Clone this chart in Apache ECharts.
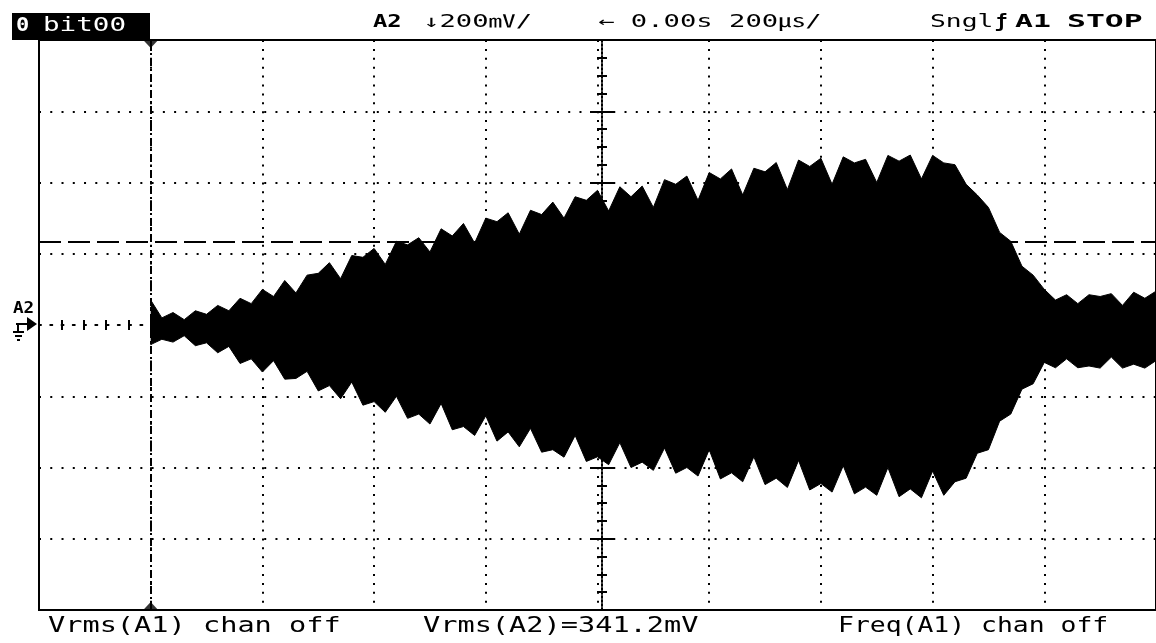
<!DOCTYPE html>
<html>
<head>
<meta charset="utf-8">
<script src="https://cdn.jsdelivr.net/npm/echarts@6/dist/echarts.min.js"></script>
<style>
html, body { margin: 0; padding: 0; background: #fff; }
#main { width: 1156px; height: 643px; }
</style>
</head>
<body>
<div id="main"></div>
<script>
// sample times in us (trigger marker at 0), 200us/div
var times = [0,20,40,60,80,100,120,140,160,180,200,220,240,260,280,300,320,340,360,380,
  400,420,440,460,480,500,520,540,560,580,600,620,640,660,680,700,720,740,760,780,
  800,820,840,860,880,900,920,940,960,980,1000,1020,1040,1060,1080,1100,1120,1140,1160,1180,
  1200,1220,1240,1260,1280,1300,1320,1340,1360,1380,1400,1420,1440,1460,1480,1500,1520,1540,1560,1580,
  1600,1620,1640,1660,1680,1700,1720,1740,1760,1780,1800];
// envelope of channel A2 in mV (needle tips and gaps), 200mV/div
var upper = [70,20,35,15,40,30,55,40,75,60,
  100,80,125,90,140,145,175,130,195,190,
  215,170,235,225,245,205,270,250,285,230,
  300,290,315,255,322,310,345,300,360,350,
  378,320,388,360,390,330,408,395,418,350,
  428,410,438,365,440,430,456,380,463,445,
  468,395,472,455,465,400,476,460,477,410,
  476,455,450,395,365,330,260,235,165,140,
  100,70,85,60,85,80,88,55,92,75,95];
var lower = [-55,-40,-48,-30,-58,-50,-78,-60,-108,-95,
  -132,-100,-152,-150,-130,-185,-170,-207,-160,-225,
  -215,-245,-200,-262,-250,-278,-220,-294,-285,-310,
  -255,-326,-300,-342,-290,-357,-350,-371,-310,-383,
  -370,-392,-330,-400,-385,-408,-345,-416,-400,-424,
  -350,-432,-415,-440,-370,-448,-430,-456,-380,-463,
  -445,-469,-395,-474,-455,-478,-400,-482,-460,-485,
  -410,-478,-440,-430,-360,-350,-270,-250,-180,-165,
  -105,-120,-95,-120,-115,-121,-90,-121,-110,-121,-100];

var refLevel = 233;   // dashed cursor level, mV
var markerTime = 0;   // trigger marker, us

var headerTitle = 'bit00';
var measA1 = 'Vrms(A1) chan off';
var measA2 = 'Vrms(A2)=341.2mV';
var freqA1 = 'Freq(A1) chan off';

var upperData = times.map(function (t, i) { return [t, upper[i]]; });
var lowerData = times.map(function (t, i) { return [t, lower[i]]; });

var chart = echarts.init(document.getElementById('main'));

var ink = '#000';
var dotH = [2, 9.26];
var dotV = [2, 6.9];

function txt(x, y, s, size, sx, bold, fill) {
  return {
    type: 'text', x: x, y: y, scaleX: sx, z: 20,
    style: {
      text: s,
      font: (bold ? 'bold ' : '') + size + 'px "DejaVu Sans Mono", "Noto Sans CJK SC", monospace',
      fill: fill || ink,
      verticalAlign: 'middle'
    }
  };
}
function seg(pts, w) {
  return { type: 'polyline', z: 20, shape: { points: pts }, style: { stroke: ink, lineWidth: w || 2 } };
}

function valueX(extra) {
  var a = {
    type: 'value', min: -200, max: 1800, interval: 200,
    axisLabel: { show: false },
    splitLine: { show: false }
  };
  return Object.assign(a, extra);
}
function valueY(extra) {
  var a = {
    type: 'value', min: -800, max: 800, interval: 200,
    axisLabel: { show: false },
    splitLine: { show: false }
  };
  return Object.assign(a, extra);
}

var option = {
  animation: false,
  backgroundColor: '#fff',
  grid: {
    left: 39, top: 40, right: -9, bottom: 33,
    show: true, borderColor: ink, borderWidth: 2
  },
  xAxis: [
    valueX({
      axisLine: { onZero: true, onZeroAxisIndex: 0, lineStyle: { color: ink, width: 2, type: dotH } },
      axisTick: { inside: true, length: 6, lineStyle: { color: ink, width: 2 } },
      minorTick: { show: true, splitNumber: 5, length: 5, lineStyle: { color: ink, width: 2 } },
      splitLine: { show: true, lineStyle: { color: ink, width: 2, type: dotV } }
    }),
    valueX({
      position: 'bottom',
      axisLine: { onZero: true, onZeroAxisIndex: 0, lineStyle: { color: 'rgba(0,0,0,0)' } },
      axisTick: { inside: false, length: 6, lineStyle: { color: ink, width: 2 } },
      minorTick: { show: true, splitNumber: 5, length: 5, lineStyle: { color: ink, width: 2 } }
    })
  ],
  yAxis: [
    valueY({
      axisLine: { show: false, onZero: false },
      axisTick: { show: false },
      splitLine: { show: true, lineStyle: { color: ink, width: 2, type: dotH } }
    }),
    valueY({
      position: 'left', offset: -563,
      axisLine: { onZero: false, lineStyle: { color: ink, width: 2, type: [2, 2] } },
      axisTick: { inside: true, length: 12, lineStyle: { color: ink, width: 2 } },
      minorTick: { show: true, splitNumber: 4, length: 5, lineStyle: { color: ink, width: 2 } }
    }),
    valueY({
      position: 'left', offset: -563,
      axisLine: { onZero: false, lineStyle: { color: 'rgba(0,0,0,0)' } },
      axisTick: { inside: false, length: 12, lineStyle: { color: ink, width: 2 } },
      minorTick: { show: true, splitNumber: 4, length: 5, lineStyle: { color: ink, width: 2 } }
    })
  ],
  series: [
    {
      // cursor level, sits behind the trace
      type: 'line', data: [], z: 1,
      markLine: {
        z: 1, silent: true, symbol: 'none', label: { show: false },
        data: [{ yAxis: refLevel, lineStyle: { color: ink, width: 2, type: [22, 7] } }]
      }
    },
    {
      type: 'line', data: upperData, symbol: 'none', z: 3, silent: true,
      lineStyle: { color: ink, width: 1 },
      areaStyle: { color: ink, opacity: 1 }
    },
    {
      type: 'line', data: lowerData, symbol: 'none', z: 3, silent: true,
      lineStyle: { color: ink, width: 1 },
      areaStyle: { color: ink, opacity: 1 }
    },
    {
      // trigger marker: dash-dot line with a triangle at each end
      type: 'scatter', z: 5, silent: true,
      symbol: 'triangle', symbolSize: [15, 8],
      itemStyle: { color: ink },
      data: [
        { value: [markerTime, 800], symbolRotate: 180, symbolOffset: [0, 4] },
        { value: [markerTime, -800], symbolOffset: [0, -4] }
      ],
      markLine: {
        z: 5, silent: true, symbol: 'none', label: { show: false },
        data: [{ xAxis: markerTime, lineStyle: { color: ink, width: 2, type: [8, 3, 2, 3] } }]
      }
    }
  ],
  graphic: [
    { type: 'rect', z: 19, shape: { x: 12, y: 13, width: 138, height: 27 }, style: { fill: ink } },
    txt(16, 26, '0', 20, 1.1, true, '#fff'),
    txt(43, 26, headerTitle, 20, 1.38, false, '#fff'),
    txt(373, 23, 'A2', 17, 1.4, true),
    txt(423, 23, '\u2193200\u33B7/', 17, 1.6, false),
    txt(598, 23, '\u2190 0.00s 200\u33B2/', 17, 1.6, false),
    txt(930, 23, 'Sngl', 17, 1.55, false),
    txt(995, 23, '\u0192', 17, 1.2, true),
    txt(1015, 23, 'A1', 17, 1.75, true),
    txt(1067, 23, 'STOP', 17, 1.85, true),
    txt(48, 626, measA1, 22, 1.3, false),
    txt(423, 626, measA2, 22, 1.3, false),
    txt(838, 626, freqA1, 22, 1.2, false),
    txt(13, 309, 'A2', 16, 1.1, true),
    seg([[16, 324], [28, 324]]),
    seg([[18, 324], [18, 331]]),
    seg([[13, 332], [24, 332]]),
    seg([[15, 336], [22, 336]]),
    seg([[17, 340], [20, 340]]),
    { type: 'polygon', z: 20, shape: { points: [[27, 317], [37, 324], [27, 331]] }, style: { fill: ink } }
  ]
};

chart.setOption(option);
</script>
</body>
</html>
